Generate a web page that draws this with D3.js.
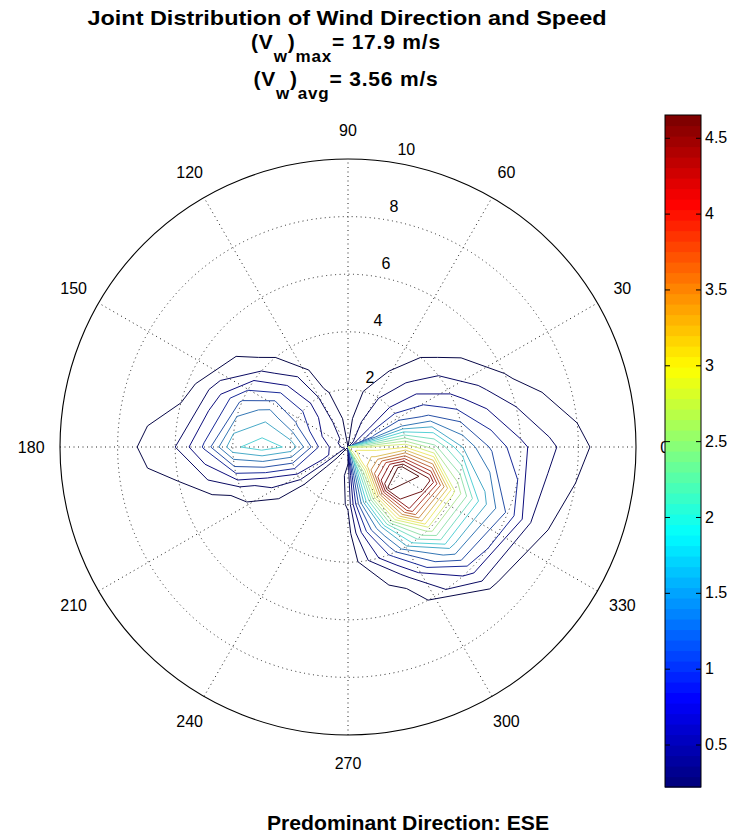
<!DOCTYPE html>
<html>
<head>
<meta charset="utf-8">
<script src="https://cdn.jsdelivr.net/npm/d3@7"></script>
<style>
body { margin: 0; background: #fff; }
text { font-family: "Liberation Sans", Arial, Helvetica, sans-serif; fill: #000; }
</style>
</head>
<body>
<svg id="chart" width="730" height="834"></svg>
<script>
// direction bins (deg, counter-clockwise from east) and speed bins (m/s)
const directions = [0, 22.5, 45, 67.5, 90, 112.5, 135, 157.5, 180, 202.5, 225, 247.5, 270, 292.5, 315, 337.5];
const speeds = [0, 1, 2, 3, 4, 5, 6, 7, 8, 9, 10];

// joint frequency (%), one row per direction, one value per speed
const freq = [
    [2.2, 2.9, 3.0, 2.4, 1.6, 1.1, 0.75, 0.5, 0.3, 0.1, 0],      // 0
    [0.6, 1.2, 1.3, 1.1, 0.8, 0.5, 0.25, 0.1, 0, 0, 0],          // 22.5
    [0.4, 0.6, 0.65, 0.5, 0.3, 0.1, 0, 0, 0, 0, 0],              // 45
    [0.35, 0.4, 0.3, 0.12, 0, 0, 0, 0, 0, 0, 0],                 // 67.5
    [0.15, 0.1, 0.05, 0, 0, 0, 0, 0, 0, 0, 0],                   // 90
    [0.3, 0.35, 0.25, 0.1, 0, 0, 0, 0, 0, 0, 0],                 // 112.5
    [0.35, 0.6, 0.8, 0.7, 0.3, 0.1, 0, 0, 0, 0, 0],              // 135
    [0.3, 0.7, 1.2, 1.5, 1.2, 0.55, 0.1, 0, 0, 0, 0],            // 157.5
    [0.3, 0.9, 1.8, 1.98, 1.8, 0.95, 0.45, 0.3, 0.05, 0, 0],     // 180
    [0.4, 0.8, 0.9, 0.6, 0.3, 0.1, 0, 0, 0, 0, 0],               // 202.5
    [0.3, 0.15, 0.05, 0, 0, 0, 0, 0, 0, 0, 0],                   // 225
    [0.1, 0.05, 0, 0, 0, 0, 0, 0, 0, 0, 0],                      // 247.5
    [0.1, 0.3, 0.25, 0.1, 0, 0, 0, 0, 0, 0, 0],                  // 270
    [1.2, 2.0, 2.2, 1.6, 1.0, 0.3, 0.05, 0, 0, 0, 0],            // 292.5
    [2.6, 3.3, 4.7, 4.2, 2.7, 1.6, 0.8, 0.2, 0, 0, 0],           // 315
    [2.9, 3.3, 4.85, 4.55, 2.8, 1.75, 1.1, 0.35, 0.1, 0, 0]      // 337.5
];

const levels = [0.22, 0.45, 0.69, 0.92, 1.15, 1.39, 1.62, 1.85, 2.09, 2.32,
                2.55, 2.79, 3.02, 3.25, 3.48, 3.72, 3.95, 4.18, 4.42, 4.65];
const angleTicks = [0, 30, 60, 90, 120, 150, 180, 210, 240, 270, 300, 330];
const radialTicks = [2, 4, 6, 8, 10];
const colorTicks = [0.5, 1, 1.5, 2, 2.5, 3, 3.5, 4, 4.5];

const cx = 348, cy = 447, R = 288;
const svg = d3.select("#chart");

let r = d3.scaleLinear().domain([0, 10]).range([0, R]);
const cmin = levels[0], cmax = levels[levels.length - 1];

// matlab jet, 64 colours
const jet = function (t) {
    t = Math.max(0, Math.min(63, Math.floor(t * 64))) / 63;
    const f = v => Math.max(0, Math.min(1, v)) * 255;
    return d3.rgb(f(1.5 - Math.abs(4 * t - 3)), f(1.5 - Math.abs(4 * t - 2)), f(1.5 - Math.abs(4 * t - 1)));
};
// thin lines in the original come out washed toward their grey level
const lineColor = function (v) {
    const c = jet((v - cmin) / (cmax - cmin));
    const y = 0.299 * c.r + 0.587 * c.g + 0.114 * c.b;
    const k = 0.5;
    return d3.rgb(y + k * (c.r - y), y + k * (c.g - y), y + k * (c.b - y)) + "";
};

const pt = (deg, rad) => [cx + r(rad) * Math.cos(deg * Math.PI / 180), cy - r(rad) * Math.sin(deg * Math.PI / 180)];

// grid: spokes and dotted rings
const grid = svg.append("g");
angleTicks.filter(a => a < 180).forEach(a => {
    const p0 = pt(a + 180, 10), p1 = pt(a, 10);
    grid.append("line")
        .attr("x1", p0[0]).attr("y1", p0[1]).attr("x2", p1[0]).attr("y2", p1[1])
        .attr("stroke", "#222").attr("stroke-width", 1).attr("stroke-dasharray", "1,3.5");
});
radialTicks.filter(t => t < 10).forEach(t => {
    grid.append("circle")
        .attr("cx", cx).attr("cy", cy).attr("r", r(t))
        .attr("fill", "none").attr("stroke", "#222").attr("stroke-width", 1).attr("stroke-dasharray", "1,3.5");
});
grid.append("circle")
    .attr("cx", cx).attr("cy", cy).attr("r", r(10))
    .attr("fill", "none").attr("stroke", "#000").attr("stroke-width", 1.1);

// contours on a (direction, speed) grid that starts at 247.5 deg so the seam is empty
const k0 = directions.indexOf(247.5);
const nx = directions.length + 1, ny = speeds.length;
const values = new Array(nx * ny);
for (let j = 0; j < ny; j++) {
    for (let c = 0; c < nx; c++) {
        values[j * nx + c] = freq[(k0 + c) % directions.length][j];
    }
}
const colAngle = d3.scaleLinear().domain([0, directions.length]).range([directions[k0], directions[k0] + 360]);
const rowSpeed = d3.scaleLinear().domain([0, ny - 1]).range([speeds[0], speeds[ny - 1]]);

const contours = d3.contours().size([nx, ny]).thresholds(levels)(values);
const line = d3.line().curve(d3.curveLinearClosed);

svg.append("g")
    .selectAll("path")
    .data(contours)
    .enter()
    .append("path")
    .attr("fill", "none")
    .attr("stroke", d => lineColor(d.value))
    .attr("stroke-width", 1)
    .attr("d", function (d) {
        let s = "";
        d.coordinates.forEach(poly => {
            poly.forEach(ring => {
                const pts = ring.map(p => pt(colAngle(p[0] - 0.5), Math.max(0, rowSpeed(p[1] - 0.5))));
                s += line(pts);
            });
        });
        return s;
    });

// angle labels
svg.append("g")
    .selectAll("text")
    .data(angleTicks)
    .enter()
    .append("text")
    .attr("x", d => cx + 1.1 * R * Math.cos(d * Math.PI / 180))
    .attr("y", d => cy - 1.1 * R * Math.sin(d * Math.PI / 180))
    .attr("text-anchor", "middle")
    .attr("dominant-baseline", "central")
    .style("font-size", "16px")
    .text(d => d);

// radial labels along 82 deg
svg.append("g")
    .selectAll("text")
    .data(radialTicks)
    .enter()
    .append("text")
    .attr("x", d => pt(82, d + 0.1)[0] + 9)
    .attr("y", d => pt(82, d + 0.1)[1] - 4)
    .style("font-size", "16px")
    .text(d => d);

// colorbar
const cbX = 665, cbW = 36;
let cy2 = d3.scaleLinear().domain([cmin, cmax]).range([787, 115]);
const cb = svg.append("g");
cb.selectAll("rect.band")
    .data(d3.range(64))
    .enter()
    .append("rect")
    .attr("class", "band")
    .attr("x", cbX)
    .attr("width", cbW)
    .attr("y", i => cy2(cmin + (i + 1) / 64 * (cmax - cmin)))
    .attr("height", i => cy2(cmin + i / 64 * (cmax - cmin)) - cy2(cmin + (i + 1) / 64 * (cmax - cmin)) + 0.6)
    .attr("fill", i => jet((i + 0.5) / 64) + "");
cb.append("rect")
    .attr("x", cbX).attr("y", 115).attr("width", cbW).attr("height", 672)
    .attr("fill", "none").attr("stroke", "#000").attr("stroke-width", 1);

const rightAxis = cb.append("g")
    .attr("transform", "translate(" + (cbX + cbW) + ",0)")
    .call(d3.axisRight(cy2).tickValues(colorTicks).tickSize(-5).tickPadding(4).tickFormat(d3.format("")));
const leftAxis = cb.append("g")
    .attr("transform", "translate(" + cbX + ",0)")
    .call(d3.axisLeft(cy2).tickValues(colorTicks).tickSize(-5).tickFormat(""));
[rightAxis, leftAxis].forEach(a => {
    a.select(".domain").remove();
    a.selectAll("line").attr("stroke", "#000");
    a.selectAll("text").style("font-size", "16px").style("font-family", "Liberation Sans, Arial, sans-serif").attr("fill", "#000");
});

// titles
svg.append("text")
    .attr("x", 347).attr("y", 25)
    .attr("text-anchor", "middle")
    .attr("textLength", 519).attr("lengthAdjust", "spacingAndGlyphs")
    .style("font-size", "21px").style("font-weight", "bold")
    .text("Joint Distribution of Wind Direction and Speed");

const subLine = function (y, sub, rest) {
    const t = svg.append("text")
        .attr("x", 346).attr("y", y)
        .attr("text-anchor", "middle")
        .style("font-size", "21px").style("font-weight", "bold").style("letter-spacing", "0.8px");
    t.append("tspan").text("(V");
    t.append("tspan").attr("dy", 13).style("font-size", "17px").text("w");
    t.append("tspan").attr("dy", -13).text(")");
    t.append("tspan").attr("dy", 13).style("font-size", "17px").text(sub);
    t.append("tspan").attr("dy", -13).text(rest);
};
subLine(49, "max", "= 17.9 m/s");
subLine(86, "avg", "= 3.56 m/s");

svg.append("text")
    .attr("x", 267).attr("y", 830)
    .attr("textLength", 282).attr("lengthAdjust", "spacingAndGlyphs")
    .style("font-size", "20px").style("font-weight", "bold")
    .text("Predominant Direction: ESE");
</script>
</body>
</html>
